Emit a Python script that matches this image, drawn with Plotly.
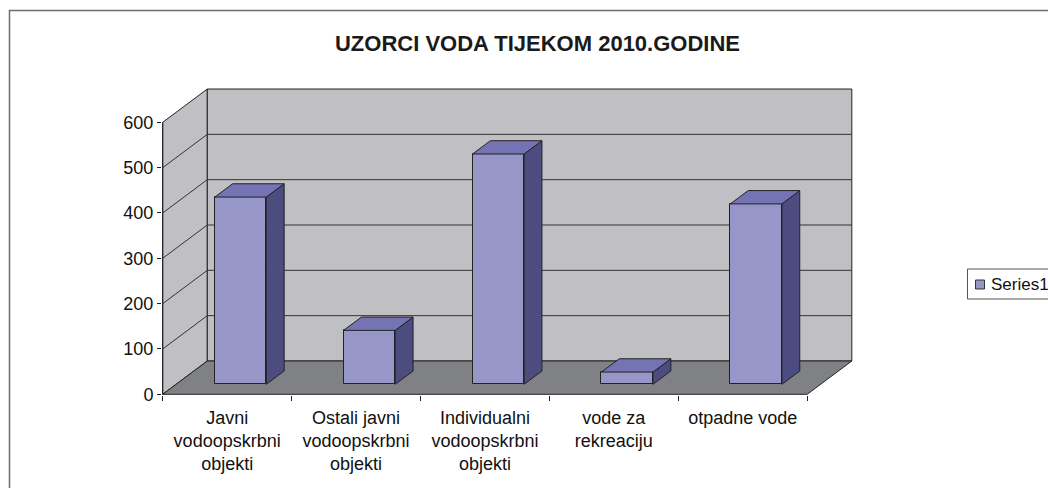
import plotly.graph_objects as go

# ---- data ----
categories = ["Javni<br>vodoopskrbni<br>objekti",
              "Ostali javni<br>vodoopskrbni<br>objekti",
              "Individualni<br>vodoopskrbni<br>objekti",
              "vode za<br>rekreaciju",
              "otpadne vode"]
values = [413, 119, 508, 27, 398]
series_name = "Series1"
y_ticks = [0, 100, 200, 300, 400, 500, 600]
title_text = "UZORCI VODA TIJEKOM 2010.GODINE"

# ---- geometry (oblique 3D projection in data units) ----
W, H = 1048, 488
PL, PR, PT, PB = 162, 853, 88, 395         # plot area in pixels
ML, MR, MT, MB = PL, W - PR, PT, H - PB
PX_X = 128.9                               # px per category unit
PX_Y = 0.4533                              # px per value unit
X0_PX, Y0_PX = 162.7, 394.3                # pixel of data origin
DX = 44.6 / PX_X                           # depth offset (x, data units)
DY = 33.3 / PX_Y                           # depth offset (y, data units)
YMAX = 600
N = len(values)
HALF_W = 0.2
T0, T1 = 0.3, 0.7

x_range = [(PL - X0_PX) / PX_X, (PR - X0_PX) / PX_X]
y_range = [(Y0_PX - PB) / PX_Y, (Y0_PX - PT) / PX_Y]

C_FRONT = "#9696C8"
C_TOP = "#7474B4"
C_SIDE = "#4C4C80"
C_WALL = "#C0C0C4"
C_FLOOR = "#808184"
C_EDGE = "#222222"
FONT = "Liberation Sans, Arial, sans-serif"


def poly_path(pts):
    return "M " + " L ".join(f"{x},{y}" for x, y in pts) + " Z"


shapes = []
# left side wall
shapes.append(dict(type="path", xref="x", yref="y", layer="below",
                   path=poly_path([(0, 0), (DX, DY), (DX, YMAX + DY), (0, YMAX)]),
                   fillcolor=C_WALL, line=dict(color=C_EDGE, width=1)))
# back wall
shapes.append(dict(type="path", xref="x", yref="y", layer="below",
                   path=poly_path([(DX, DY), (N + DX, DY), (N + DX, YMAX + DY), (DX, YMAX + DY)]),
                   fillcolor=C_WALL, line=dict(color=C_EDGE, width=1)))
# gridlines on walls
for v in y_ticks[1:-1]:
    shapes.append(dict(type="line", xref="x", yref="y", layer="below",
                       x0=0, y0=v, x1=DX, y1=v + DY, line=dict(color="#333333", width=1)))
    shapes.append(dict(type="line", xref="x", yref="y", layer="below",
                       x0=DX, y0=v + DY, x1=N + DX, y1=v + DY, line=dict(color="#333333", width=1)))
# floor
shapes.append(dict(type="path", xref="x", yref="y", layer="below",
                   path=poly_path([(0, 0), (N, 0), (N + DX, DY), (DX, DY)]),
                   fillcolor=C_FLOOR, line=dict(color=C_EDGE, width=1)))
# front axis line
shapes.append(dict(type="line", xref="x", yref="y", layer="below",
                   x0=0, y0=0, x1=0, y1=YMAX, line=dict(color=C_EDGE, width=1)))

fig = go.Figure()

# front faces of the columns
centers = [i + 0.5 for i in range(N)]
fig.add_trace(go.Bar(
    x=[c + T0 * DX for c in centers],
    y=values,
    base=[T0 * DY] * N,
    width=2 * HALF_W,
    marker=dict(color=C_FRONT, line=dict(color=C_EDGE, width=1)),
    name=series_name, showlegend=False, hoverinfo="skip"))

# side and top faces
for c, v in zip(centers, values):
    xl, xr = c - HALF_W, c + HALF_W
    side = [(xr + T0 * DX, T0 * DY), (xr + T1 * DX, T1 * DY),
            (xr + T1 * DX, v + T1 * DY), (xr + T0 * DX, v + T0 * DY), (xr + T0 * DX, T0 * DY)]
    top = [(xl + T0 * DX, v + T0 * DY), (xr + T0 * DX, v + T0 * DY),
           (xr + T1 * DX, v + T1 * DY), (xl + T1 * DX, v + T1 * DY), (xl + T0 * DX, v + T0 * DY)]
    for pts, col in ((side, C_SIDE), (top, C_TOP)):
        fig.add_trace(go.Scatter(
            x=[p[0] for p in pts], y=[p[1] for p in pts],
            mode="lines", fill="toself", fillcolor=col,
            line=dict(color=C_EDGE, width=1),
            showlegend=False, hoverinfo="skip"))


# pixel -> paper helpers
def px2paper_x(px):
    return (px - PL) / (PR - PL)


def px2paper_y(py):
    return (PB - py) / (PB - PT)


# outer chart border
shapes.append(dict(type="rect", xref="paper", yref="paper",
                   x0=px2paper_x(9.5), x1=px2paper_x(1080),
                   y0=px2paper_y(530), y1=px2paper_y(10.5),
                   line=dict(color="#6d6d6d", width=1.5), fillcolor="rgba(0,0,0,0)"))
# legend box (cut by the right edge, as in the original)
shapes.append(dict(type="rect", xref="paper", yref="paper",
                   x0=px2paper_x(967.5), x1=px2paper_x(1080),
                   y0=px2paper_y(299), y1=px2paper_y(269),
                   line=dict(color="#555555", width=1), fillcolor="white"))
shapes.append(dict(type="rect", xref="paper", yref="paper",
                   x0=px2paper_x(975.5), x1=px2paper_x(984.5),
                   y0=px2paper_y(289), y1=px2paper_y(280),
                   line=dict(color="#333333", width=1), fillcolor=C_FRONT))

annotations = [dict(text=series_name, xref="paper", yref="paper",
                    x=px2paper_x(988.5), y=px2paper_y(284.5),
                    xanchor="left", yanchor="middle", showarrow=False,
                    font=dict(family=FONT, size=17, color="#111111"))]

fig.update_layout(
    width=W, height=H,
    margin=dict(l=ML, r=MR, t=MT, b=MB, autoexpand=False),
    paper_bgcolor="white", plot_bgcolor="white",
    showlegend=False,
    title=dict(text=f"<b>{title_text}</b>", x=537.5 / W, xanchor="center",
               y=(H - 43.5) / H, yanchor="middle",
               font=dict(family=FONT, size=22, color="#1a1a1a")),
    shapes=shapes, annotations=annotations,
    xaxis=dict(range=x_range, showgrid=False, zeroline=False, showline=False,
               tickmode="array", tickvals=centers, ticktext=categories,
               ticks="outside", ticklen=6, tickcolor="rgba(0,0,0,0)",
               tickfont=dict(family=FONT, size=18, color="#111111"),
               minor=dict(tickmode="array", tickvals=list(range(N + 1)),
                          ticks="outside", ticklen=5, tickcolor=C_EDGE, tickwidth=1,
                          showgrid=False),
               fixedrange=True),
    yaxis=dict(range=y_range, showgrid=False, zeroline=False, showline=False,
               tickmode="array", tickvals=y_ticks,
               ticks="outside", ticklen=4, tickcolor=C_EDGE, tickwidth=1,
               tickfont=dict(family=FONT, size=18, color="#111111"),
               fixedrange=True),
    bargap=0,
)

fig.write_html("out.html",
               config={"displayModeBar": False},
               post_script="document.body.style.margin='0';document.body.style.overflow='hidden';")
